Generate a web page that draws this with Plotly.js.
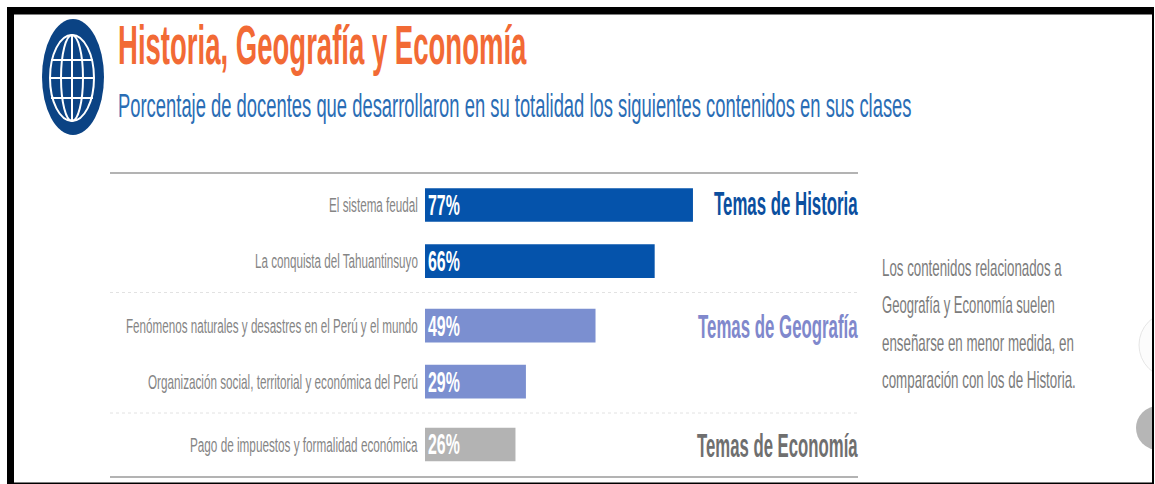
<!DOCTYPE html>
<html><head><meta charset="utf-8">
<script src="https://cdn.plot.ly/plotly-3.0.1.min.js"></script>
<style>html,body{margin:0;padding:0;background:#fff}</style></head>
<body><div id="chart" style="width:1155px;height:484px"></div>
<script>
const categories = ["El sistema feudal","La conquista del Tahuantinsuyo","Fenómenos naturales y desastres en el Perú y el mundo","Organización social, territorial y económica del Perú","Pago de impuestos y formalidad económica"];
const values = [77,66,49,29,26];
const valueLabels = ["77%","66%","49%","29%","26%"];
const rows = [0,1,2.15,3.15,4.27];
const barColors = ["#0553ab","#0553ab","#7b8fd0","#7b8fd0","#b3b3b3"];
const groupLabels = ["Temas de Historia","Temas de Geografía","Temas de Economía"];
const groupColors = ["#0b4f9f","#8088cc","#6f6f6f"];
const noteLines = ["Los contenidos relacionados a","Geografía y Economía suelen","enseñarse en menor medida, en","comparación con los de Historia."];
const titleText = "Historia, Geografía y Economía";
const subtitleText = "Porcentaje de docentes que desarrollaron en su totalidad los siguientes contenidos en sus clases";

const W=1155,H=484;
const px=x=>x/W, py=y=>1-y/H;
const FONT='"Liberation Sans",Arial,sans-serif';
const rect=(x0,y0,x1,y1,fill)=>({type:'rect',xref:'paper',yref:'paper',x0:px(x0),x1:px(x1),y0:py(y0),y1:py(y1),fillcolor:fill,line:{width:0}});
const oval=(cx,cy,rx,ry,fill,lc,lw)=>({type:'circle',xref:'paper',yref:'paper',x0:px(cx-rx),x1:px(cx+rx),y0:py(cy-ry),y1:py(cy+ry),fillcolor:fill,line:{color:lc||fill,width:lw||0}});
const rule=(x0,x1,y,c,w,d)=>({type:'line',xref:'paper',yref:'paper',x0:px(x0),x1:px(x1),y0:py(y),y1:py(y),line:{color:c,width:w,dash:d||'solid'}});
const text=(t,x,y,size,color,anchor)=>({text:t,xref:'paper',yref:'paper',x:px(x),y:py(y),xanchor:anchor,yanchor:'middle',showarrow:false,font:{family:FONT,size,color}});

const shapes=[
 oval(1172,345,33,33,'#fcfcfc','#e6e6e6',1),
 oval(1158,428,22,22,'#b6b6b6'),
 rect(1154,0,1155,484,'#ffffff'),
 rule(110,858,173,'#9a9a9a',1.5),
 rule(110,858,292.5,'#e2e2e2',1,'dot'),
 rule(110,858,413,'#e2e2e2',1,'dot'),
 rule(110,858,477,'#9a9a9a',1.5),
 oval(73,77,31,58,'#0b4384'),
 oval(72,78,22,43,'#0b4384','#ffffff',2),
 oval(72,78,11,43,'rgba(0,0,0,0)','#ffffff',2),
 rule(51,93,60,'#ffffff',2),
 rule(50,94,78,'#ffffff',2),
 rule(51,93,98,'#ffffff',2),
 {type:'line',xref:'paper',yref:'paper',x0:px(72),x1:px(72),y0:py(35),y1:py(121),line:{color:'#ffffff',width:2}},
 rect(7,7,1154,14.5,'#000000'),
 rect(7,7,14,484,'#000000'),
 rect(1152,7,1154,484,'#000000'),
 rect(7,482.5,1154,484,'#000000')
];

const annotations=[
 text('<b>'+titleText+'</b>',118,45,56,'#f26a35','left'),
 text(subtitleText,118,105,33,'#2a6db5','left'),
 text('<b>'+groupLabels[0]+'</b>',858,204,33,groupColors[0],'right'),
 text('<b>'+groupLabels[1]+'</b>',858,326,33,groupColors[1],'right'),
 text('<b>'+groupLabels[2]+'</b>',858,445,33,groupColors[2],'right'),
];
const noteY=[268,305,343,380];
noteLines.forEach((l,i)=>annotations.push(text(l,882,noteY[i],23,'#7c7c7c','left')));

// Horizontal extents of the condensed lettering in the reference: text -> [left, right]
const extents={};
extents[titleText]=[118,527];
extents[subtitleText]=[118,912];
[[714,858],[698,858],[697,858]].forEach((e,i)=>extents[groupLabels[i]]=e);
[[329,418],[255,418],[126,418],[148,418],[190,418]].forEach((e,i)=>extents[categories[i]]=e);
[[882,1062],[882,1055],[882,1074],[882,1076]].forEach((e,i)=>extents[noteLines[i]]=e);
[[428,460],[428,460],[428,460],[428,460],[428,460]].forEach((e,i)=>extents[valueLabels[i]]=e);

Plotly.newPlot('chart',[{
 type:'bar',orientation:'h',x:values,y:rows,width:0.6,
 marker:{color:barColors,line:{width:0}},
 text:valueLabels,textposition:'inside',insidetextanchor:'start',
 textangle:0,constraintext:'none',
 textfont:{family:FONT,size:29,color:'#ffffff',weight:700},
 hoverinfo:'skip'
}],{
 width:W,height:H,margin:{l:0,r:0,t:0,b:0},
 paper_bgcolor:'#ffffff',plot_bgcolor:'rgba(0,0,0,0)',
 showlegend:false,
 xaxis:{domain:[px(425),px(773)],range:[0,100],visible:false,fixedrange:true},
 yaxis:{domain:[py(472.5),py(177)],range:[4.77,-0.5],tickmode:'array',tickvals:rows,ticktext:categories,
   ticks:'outside',ticklen:7,tickcolor:'rgba(0,0,0,0)',showline:false,showgrid:false,zeroline:false,
   tickfont:{family:FONT,size:21,color:'#858585'},fixedrange:true},
 shapes,annotations
},{displayModeBar:false,staticPlot:true}).then(gd=>{
 gd.querySelectorAll('svg text').forEach(el=>{
  const e=extents[el.textContent.trim()];
  if(!e) return;
  const base=el.getAttribute('transform')||'';
  const s=(e[1]-e[0])/el.getBoundingClientRect().width;
  el.setAttribute('transform','scale('+s+',1) '+base);
  const a=e[0]-el.getBoundingClientRect().left;
  el.setAttribute('transform','translate('+a+',0) scale('+s+',1) '+base);
 });
});
</script></body></html>
